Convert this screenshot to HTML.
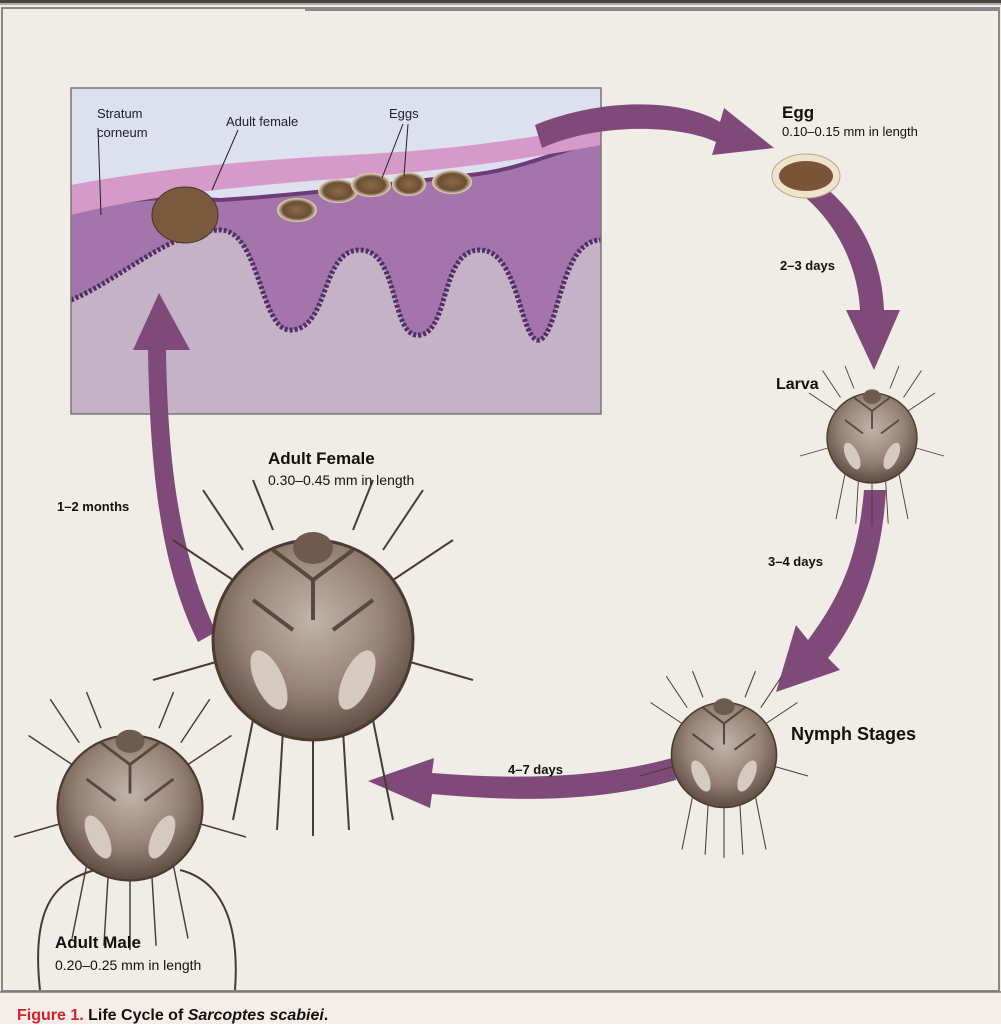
<!DOCTYPE html>
<html><head><meta charset="utf-8"><style>
html,body{margin:0;padding:0;background:#fff;}
body{width:1001px;height:1024px;overflow:hidden;position:relative;font-family:"Liberation Sans",sans-serif;}
</style></head><body>
<svg width="1001" height="1024" viewBox="0 0 1001 1024" xmlns="http://www.w3.org/2000/svg">
<defs>
<radialGradient id="mite" cx="50%" cy="40%" r="60%">
<stop offset="0" stop-color="#c2b4a8"/><stop offset="0.6" stop-color="#968275"/><stop offset="1" stop-color="#5c4a40"/>
</radialGradient>
<radialGradient id="egg" cx="50%" cy="50%" r="50%">
<stop offset="0" stop-color="#8a6a48"/><stop offset="0.7" stop-color="#6b4e34"/><stop offset="1" stop-color="#e8dcc0"/>
</radialGradient>
<g id="m">
<g stroke="#4a3c34" stroke-width="1" fill="none">
<path d="M-40,-30 L-70,-50 M-35,-45 L-55,-75 M40,-30 L70,-50 M35,-45 L55,-75 M-20,-55 L-30,-80 M20,-55 L30,-80 M-45,10 L-80,20 M45,10 L80,20 M-30,40 L-40,90 M-15,45 L-18,95 M0,48 L0,98 M15,45 L18,95 M30,40 L40,90"/>
</g>
<ellipse cx="0" cy="0" rx="50" ry="50" fill="url(#mite)" stroke="#4a3a32" stroke-width="1.5"/>
<path d="M-20,-45 L0,-30 L20,-45 M0,-30 L0,-10 M-30,-20 L-10,-5 M30,-20 L10,-5" stroke="#5a483e" stroke-width="2" fill="none"/>
<ellipse cx="-22" cy="20" rx="7" ry="16" fill="#d6cabf" transform="rotate(-25 -22 20)"/>
<ellipse cx="22" cy="20" rx="7" ry="16" fill="#d6cabf" transform="rotate(25 22 20)"/>
<ellipse cx="0" cy="-46" rx="10" ry="8" fill="#6e5a4e"/>
</g>
</defs>
<rect width="1001" height="1024" fill="#f0ece6"/>
<rect x="0" y="0" width="1001" height="3" fill="#444"/>
<rect x="0" y="3" width="1001" height="2" fill="#aaa"/>
<rect x="2" y="8" width="997" height="983" fill="#f0ece6" stroke="#888" stroke-width="2"/>
<rect x="305" y="8" width="694" height="3" fill="#888"/>
<rect x="0" y="992" width="1001" height="32" fill="#f5ede8"/>
<line x1="0" y1="992" x2="1001" y2="992" stroke="#777" stroke-width="1.5"/>
<text x="17" y="1020" font-size="16" font-weight="bold"><tspan fill="#d4202a">Figure 1.</tspan><tspan fill="#111"> Life Cycle of </tspan><tspan fill="#111" font-style="italic">Sarcoptes scabiei</tspan><tspan fill="#111">.</tspan></text>

<g>
<rect x="71" y="88" width="530" height="326" fill="#dde0ef"/>
<path d="M71,300 L71,414 L601,414 L601,240 C560,240 560,330 540,340 C520,345 520,250 480,250 C440,250 450,330 420,335 C390,340 400,250 360,250 C320,250 330,330 290,330 C260,330 260,230 220,230 C170,230 120,280 71,300Z" fill="#c6b2c6"/>
<path d="M71,210 C130,200 150,195 220,200 C300,195 380,185 470,175 C520,170 560,150 601,140 L601,240 C560,240 560,330 540,340 C520,345 520,250 480,250 C440,250 450,330 420,335 C390,340 400,250 360,250 C320,250 330,330 290,330 C260,330 260,230 220,230 C170,230 120,280 71,300Z" fill="#a475aa"/>
<path d="M71,210 C130,200 150,195 220,200 C300,195 380,185 470,175 C520,170 560,150 601,140" stroke="#6b3c78" stroke-width="4" fill="none"/>
<path d="M71,185 C150,170 250,160 350,155 C450,150 520,140 601,125 L601,145 C520,160 450,170 350,178 C250,185 150,195 71,215Z" fill="#d69ac8"/>
<path d="M71,300 C120,280 170,230 220,230 C260,230 260,330 290,330 C330,330 320,250 360,250 C400,250 390,340 420,335 C450,330 440,250 480,250 C520,250 520,345 540,340 C560,330 560,240 601,240" stroke="#4e2f68" stroke-width="5" fill="none" stroke-dasharray="3 2"/>
<rect x="71" y="88" width="530" height="326" fill="none" stroke="#777" stroke-width="1.5"/>
<ellipse cx="297" cy="210" rx="20" ry="12" fill="url(#egg)"/>
<ellipse cx="338" cy="191" rx="20" ry="12" fill="url(#egg)"/>
<ellipse cx="371" cy="185" rx="20" ry="12" fill="url(#egg)"/>
<ellipse cx="409" cy="184" rx="17" ry="12" fill="url(#egg)"/>
<ellipse cx="452" cy="182" rx="20" ry="12" fill="url(#egg)"/>
<ellipse cx="185" cy="215" rx="33" ry="28" fill="#7a5a3e" stroke="#4a3524"/>
<g stroke="#222" stroke-width="1" fill="none">
<line x1="98" y1="128" x2="101" y2="215"/><line x1="238" y1="130" x2="212" y2="190"/>
<line x1="403" y1="124" x2="382" y2="178"/><line x1="408" y1="124" x2="404" y2="176"/>
</g>
<g font-size="13" fill="#222"><text x="97" y="118">Stratum</text><text x="97" y="137">corneum</text><text x="226" y="126">Adult female</text><text x="389" y="118">Eggs</text></g>
</g>

<g fill="#7f4a79">
<path d="M535,125 C600,98 680,98 720,122 L724,108 L774,148 L712,155 L716,142 C680,125 600,122 542,148Z"/>
<path d="M806,198 C840,228 858,270 860,310 L846,310 L874,370 L900,310 L884,310 C882,260 862,218 826,188Z"/>
<path d="M864,490 C858,560 838,600 808,640 L796,625 L776,692 L840,670 L828,658 C862,615 882,560 886,490Z"/>
<path d="M672,758 C600,778 520,780 432,773 L434,758 L368,781 L430,808 L432,794 C520,802 600,802 676,780Z"/>
<path d="M216,632 C183,560 168,480 166,350 L190,350 L159,293 L133,350 L148,350 C150,480 163,572 198,642Z"/>
</g>

<ellipse cx="806" cy="176" rx="34" ry="22" fill="#eee3cc" stroke="#b9a88a"/>
<ellipse cx="806" cy="176" rx="27" ry="15" fill="#7a5436"/>
<use href="#m" transform="translate(872,438) scale(0.9)"/>
<use href="#m" transform="translate(724,755) scale(1.05)"/>
<use href="#m" transform="translate(313,640) scale(2)"/>
<use href="#m" transform="translate(130,808) scale(1.45)"/>
<path d="M40,990 C30,900 60,880 95,870 M235,990 C240,920 220,880 180,870" stroke="#4a3a32" stroke-width="2" fill="none"/>

<g fill="#111">
<text x="782" y="118" font-size="17" font-weight="bold">Egg</text>
<text x="782" y="136" font-size="13">0.10–0.15 mm in length</text>
<text x="780" y="270" font-size="13" font-weight="bold">2–3 days</text>
<text x="776" y="389" font-size="16" font-weight="bold">Larva</text>
<text x="768" y="566" font-size="13" font-weight="bold">3–4 days</text>
<text x="791" y="740" font-size="18" font-weight="bold">Nymph Stages</text>
<text x="508" y="774" font-size="13" font-weight="bold">4–7 days</text>
<text x="268" y="464" font-size="17" font-weight="bold">Adult Female</text>
<text x="268" y="485" font-size="14">0.30–0.45 mm in length</text>
<text x="57" y="511" font-size="13" font-weight="bold">1–2 months</text>
<text x="55" y="948" font-size="17" font-weight="bold">Adult Male</text>
<text x="55" y="970" font-size="14">0.20–0.25 mm in length</text>
</g>
</svg>
</body></html>
